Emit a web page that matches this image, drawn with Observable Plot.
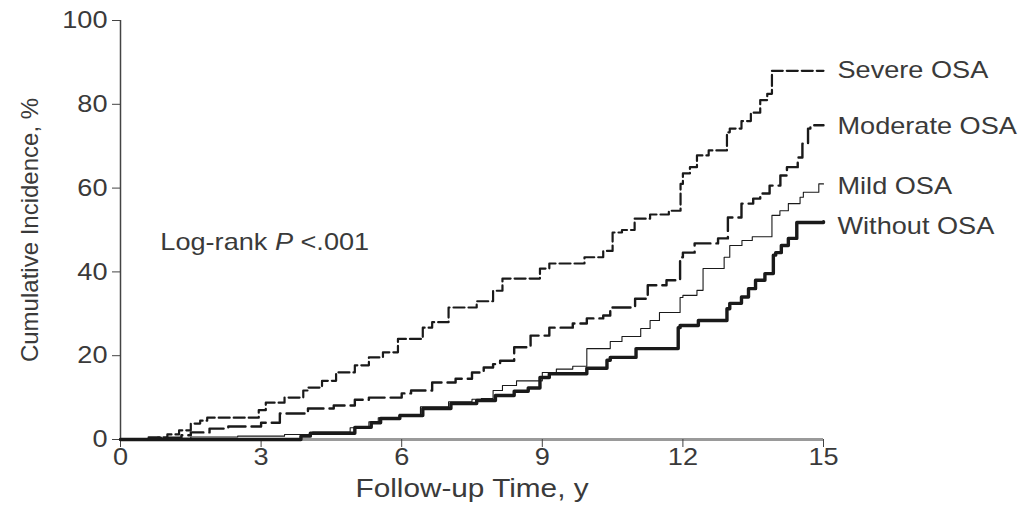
<!DOCTYPE html>
<html>
<head>
<meta charset="utf-8">
<script src="https://cdn.jsdelivr.net/npm/d3@7"></script>
<script src="https://cdn.jsdelivr.net/npm/@observablehq/plot@0.6"></script>
<style>
  html, body { margin: 0; padding: 0; background: #fff; }
  svg { display: block; }
</style>
</head>
<body>
<div id="chart"></div>
<script>
// ---- Data ----
const severeT = [0, 0.6, 1.0, 1.25, 1.5, 1.7, 1.85, 2.95, 3.1, 3.5, 3.9, 4.0, 4.3, 4.6, 5.0, 5.3, 5.6, 5.92, 6.45, 6.65, 7.0, 7.6, 7.95, 8.15, 8.95, 9.15, 9.9, 10.3, 10.5, 10.7, 10.97, 11.3, 11.7, 11.95, 12.0, 12.15, 12.3, 12.55, 12.94, 13.0, 13.25, 13.45, 13.65, 13.8, 13.9, 15];
const severeV = [0, 0.5, 1.2, 2.2, 3.8, 4.5, 5.2, 7.0, 8.8, 10, 11.7, 12.4, 14, 16, 17.7, 19.6, 20.8, 24, 26.7, 28, 31.5, 33, 35.5, 38.4, 40.8, 42, 43.5, 45, 49.4, 50, 52.7, 53.7, 54.6, 61, 63.5, 65, 67.8, 69, 73.3, 74.2, 76, 78, 81, 82.5, 88, 88];

const moderateT = [0, 0.8, 1.3, 1.5, 1.9, 2.3, 3.0, 3.4, 4.0, 4.55, 5.0, 5.3, 6.0, 6.2, 6.65, 7.15, 7.5, 7.75, 7.95, 8.1, 8.4, 8.75, 9.15, 9.65, 9.95, 10.3, 10.45, 10.98, 11.25, 11.65, 11.94, 12.0, 12.25, 12.75, 12.96, 13.25, 13.5, 13.65, 13.85, 14.08, 14.22, 14.45, 14.55, 14.67, 14.72, 15];
const moderateV = [0, 0.4, 1.0, 1.7, 2.6, 3.1, 4.0, 6.2, 7.4, 8.1, 9.5, 10, 11, 11.7, 13.6, 14.5, 16, 17.2, 18, 18.8, 22, 24.8, 26.7, 27.7, 28.9, 29.6, 31.5, 33.6, 36.8, 38, 43.5, 44.6, 46.8, 48, 53, 56.3, 57.5, 58.7, 60.6, 63, 65, 67.3, 70.6, 74.2, 75, 75];

const mildT = [0, 0.9, 1.5, 2.5, 3.5, 4.1, 4.9, 5.3, 5.5, 5.95, 6.4, 7.0, 7.5, 7.7, 7.95, 8.15, 8.45, 9.0, 9.3, 9.65, 9.95, 10.45, 10.7, 11.1, 11.3, 11.5, 11.94, 12.0, 12.3, 12.43, 12.88, 13.0, 13.26, 13.48, 13.9, 14.07, 14.25, 14.5, 14.57, 14.9, 15];
const mildV = [0, 0.3, 0.6, 0.8, 1.2, 1.8, 2.8, 4.2, 5.2, 6.0, 7.8, 9.0, 9.6, 9.8, 11.7, 12.9, 14, 16, 16.8, 17.5, 21.7, 23.4, 24.6, 26.5, 28.4, 30.3, 33.9, 34.4, 35.6, 40.8, 43.5, 46.3, 47.5, 48.4, 53.5, 54.6, 56.3, 57.8, 59, 61, 61];

const withoutT = [0, 3.85, 4.05, 5.0, 5.35, 5.55, 5.96, 6.45, 7.05, 7.6, 8.0, 8.4, 8.7, 8.95, 9.15, 9.95, 10.38, 10.45, 11.0, 11.9, 11.94, 12.33, 12.94, 13.0, 13.25, 13.4, 13.55, 13.75, 13.93, 13.98, 14.1, 14.25, 14.43, 15];
const withoutV = [0, 0.8, 1.5, 2.9, 4.0, 5.0, 5.7, 7.4, 8.6, 9.3, 10.5, 11.5, 12.3, 14.8, 15.7, 17, 18.9, 19.6, 21.7, 26.7, 27.2, 28.4, 31.2, 32.5, 34, 36, 38, 39.6, 44, 44.6, 46.3, 48, 51.8, 52];

const seriesNames = ["Severe OSA", "Moderate OSA", "Mild OSA", "Without OSA"];
const labelValues = [88, 74.7, 60.4, 50.8];
const xTicks = [0, 3, 6, 9, 12, 15];
const yTicks = [0, 20, 40, 60, 80, 100];
const xTitle = "Follow-up Time, y";
const yTitle = "Cumulative Incidence, %";
const annotation = "Log-rank P <.001";

// ---- Build tables ----
const toRows = (T, V) => T.map((t, i) => ({t, v: V[i]}));
const severe = toRows(severeT, severeV);
const moderate = toRows(moderateT, moderateV);
const mild = toRows(mildT, mildV);
const without = toRows(withoutT, withoutV);
const labels = seriesNames.map((name, i) => ({name, t: 15, v: labelValues[i]}));

const ink = "#1a1a1a";
const textColor = "#3a3a3a";

const chart = Plot.plot({
  width: 1021,
  height: 511,
  marginLeft: 120,
  marginRight: 198,
  marginTop: 20,
  marginBottom: 72,
  style: {fontFamily: "'Liberation Sans', Arial, sans-serif", fontSize: "24px", color: textColor, background: "#fff", overflow: "visible"},
  x: {domain: [0, 15]},
  y: {domain: [0, 100]},
  marks: [
    Plot.ruleY([0], {stroke: "#9a9a9a", strokeWidth: 3}),
    Plot.ruleX([0], {stroke: "#444", strokeWidth: 1.5}),
    Plot.axisX({ticks: xTicks, tickSize: 8, tickPadding: 0, label: null, stroke: "#444", fontSize: 24}),
    Plot.axisY({ticks: yTicks, tickSize: 8, tickPadding: 5, label: null, stroke: "#444", fontSize: 24}),
    Plot.line(without, {x: "t", y: "v", curve: "step-after", stroke: ink, strokeWidth: 3.4}),
    Plot.line(mild, {x: "t", y: "v", curve: "step-after", stroke: ink, strokeWidth: 1.1}),
    Plot.line(moderate, {x: "t", y: "v", curve: "step-after", stroke: ink, strokeWidth: 2.4, strokeDasharray: "18,6"}),
    Plot.line(severe, {x: "t", y: "v", curve: "step-after", stroke: ink, strokeWidth: 2.2, strokeDasharray: "11,4"}),
    Plot.text(labels, {x: "t", y: "v", text: "name", textAnchor: "start", dx: 14, fill: textColor, fontSize: 24}),
    Plot.text([annotation], {x: 0.85, y: 47, textAnchor: "start", fill: textColor, fontSize: 24}),
    Plot.text([xTitle], {frameAnchor: "bottom", textAnchor: "middle", dy: 57, fill: textColor, fontSize: 25}),
    Plot.text([yTitle], {frameAnchor: "left", textAnchor: "middle", dx: -90, rotate: -90, fill: textColor, fontSize: 24})
  ]
});

document.getElementById("chart").appendChild(chart);

// italic P in annotation
chart.querySelectorAll("text").forEach(t => {
  if (t.textContent === annotation) {
    t.textContent = "";
    const ns = "http://www.w3.org/2000/svg";
    const a = document.createElementNS(ns, "tspan"); a.textContent = "Log-rank ";
    const p = document.createElementNS(ns, "tspan"); p.textContent = "P"; p.setAttribute("font-style", "italic");
    const b = document.createElementNS(ns, "tspan"); b.textContent = " <.001";
    t.append(a, p, b);
  }
});

// the reference's type is slightly stretched horizontally
chart.querySelectorAll("text").forEach(t => {
  const tr = t.getAttribute("transform") || "";
  if (tr.includes("rotate")) return;
  const L = t.getComputedTextLength();
  const k = t.textContent === xTitle ? 1.19 : 1.13;
  if (L > 0) {
    t.setAttribute("textLength", (L * k).toFixed(2));
    t.setAttribute("lengthAdjust", "spacingAndGlyphs");
  }
});
</script>
</body>
</html>
